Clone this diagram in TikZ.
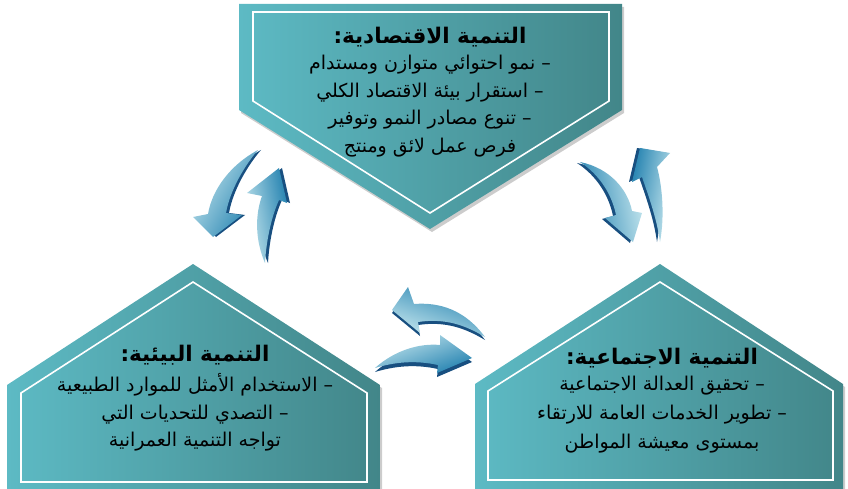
\documentclass[tikz,border=0pt]{standalone}
\usepackage{fontspec}
\newfontfamily\arabicfont[Script=Arabic]{DejaVu Sans}
\TeXXeTstate=1
\usetikzlibrary{positioning,shadows}

\definecolor{tealL}{HTML}{5DBAC4}
\definecolor{tealD}{HTML}{428689}
\definecolor{arrL}{HTML}{C4E6EE}
\definecolor{arrM}{HTML}{2DA8C2}
\definecolor{arrR}{HTML}{2482B0}
\definecolor{arrD}{HTML}{184F80}

\tikzset{
  panel/.style={left color=tealL, right color=tealD,
    drop shadow={opacity=0.4, shadow xshift=2pt, shadow yshift=-3pt}},
  panelrim/.style={draw=white, line width=1.6pt},
  flow/.style={preaction={fill=arrD, transform canvas={shift={#1}}},
    left color=arrL, middle color=arrM, right color=arrR},
  headline/.style={inner sep=0pt, font=\arabicfont\bfseries\fontsize{21.5}{26}\selectfont},
  bodytext/.style={inner sep=0pt, align=center, font=\arabicfont\fontsize{19}{27.5}\selectfont}
}

\begin{document}
\begin{tikzpicture}[x=1pt,y=-1pt]
\useasboundingbox (0,0) rectangle (848,489);

%% panels
\path[panel] (239,4) -- (622,4) -- (622,110) -- (430,229) -- (239,110) -- cycle;
\draw[panelrim] (253,12) -- (609,12) -- (609,101) -- (430,213) -- (253,101) -- cycle;

\path[panel] (7,385) -- (193,264) -- (380,385) -- (380,489) -- (7,489) -- cycle;
\draw[panelrim] (21,393) -- (193,282) -- (367,393) -- (367,482) -- (21,482) -- cycle;

\path[panel] (475,384) -- (660,264) -- (843,384) -- (843,489) -- (475,489) -- cycle;
\draw[panelrim] (488,391) -- (660,282) -- (833,391) -- (833,480) -- (488,480) -- cycle;

%% arrows
\path[flow={(3pt,0pt)}, shading angle=60] (258,150) .. controls (230,165) and (212,190) .. (208,214) -- (193,217) -- (213,237) -- (242,215) -- (226,213) .. controls (230,190) and (245,165) .. (258,150) -- cycle;
\path[flow={(3pt,0pt)}, shading angle=100] (265,263) .. controls (255,240) and (255,215) .. (262,196) -- (247,193) -- (279,168) -- (287,203) -- (279,200) .. controls (270,220) and (266,245) .. (265,263) -- cycle;

\path[flow={(-3pt,-1pt)}, shading angle=-80] (580,162) .. controls (610,168) and (628,190) .. (632,211) -- (642,213) -- (633,242) -- (605,218) -- (616,215) .. controls (612,195) and (600,175) .. (580,162) -- cycle;
\path[flow={(-3pt,0pt)}, shading angle=-100] (660,242) .. controls (665,215) and (662,185) .. (657,167) -- (670,153) -- (640,148) -- (632,182) -- (642,177) .. controls (650,200) and (657,220) .. (660,242) -- cycle;

\path[flow={(0pt,-3pt)}, shading angle=160] (485,337) .. controls (465,310) and (440,302) .. (414,304) -- (408,287) -- (392,310) -- (420,333) -- (418,322) .. controls (445,318) and (465,325) .. (485,337) -- cycle;
\path[flow={(0pt,-4pt)}, shading angle=20] (375,368) .. controls (395,350) and (420,343) .. (440,345) -- (440,335) -- (472,358) -- (437,373) -- (438,365) .. controls (415,360) and (395,362) .. (375,368) -- cycle;

%% texts
\node[headline] (econTitle) at (430,37) {\beginR التنمية الاقتصادية:\endR};
\node[bodytext, below=8pt of econTitle] (econBody) {\beginR – نمو احتوائي متوازن ومستدام\endR\\
  \beginR – استقرار بيئة الاقتصاد الكلي\endR\\
  \beginR – تنوع مصادر النمو وتوفير\endR\\
  \beginR فرص عمل لائق ومنتج\endR};

\node[headline] (envTitle) at (195,355) {\beginR التنمية البيئية:\endR};
\node[bodytext, below=8pt of envTitle] (envBody) {\beginR – الاستخدام الأمثل للموارد الطبيعية\endR\\
  \beginR – التصدي للتحديات التي\endR\\
  \beginR تواجه التنمية العمرانية\endR};

\node[headline] (socTitle) at (662,358) {\beginR التنمية الاجتماعية:\endR};
\node[bodytext, below=8pt of socTitle, font=\arabicfont\fontsize{19}{29}\selectfont] (socBody) {\beginR – تحقيق العدالة الاجتماعية\endR\\
  \beginR – تطوير الخدمات العامة للارتقاء\endR\\
  \beginR بمستوى معيشة المواطن\endR};

\end{tikzpicture}
\end{document}
